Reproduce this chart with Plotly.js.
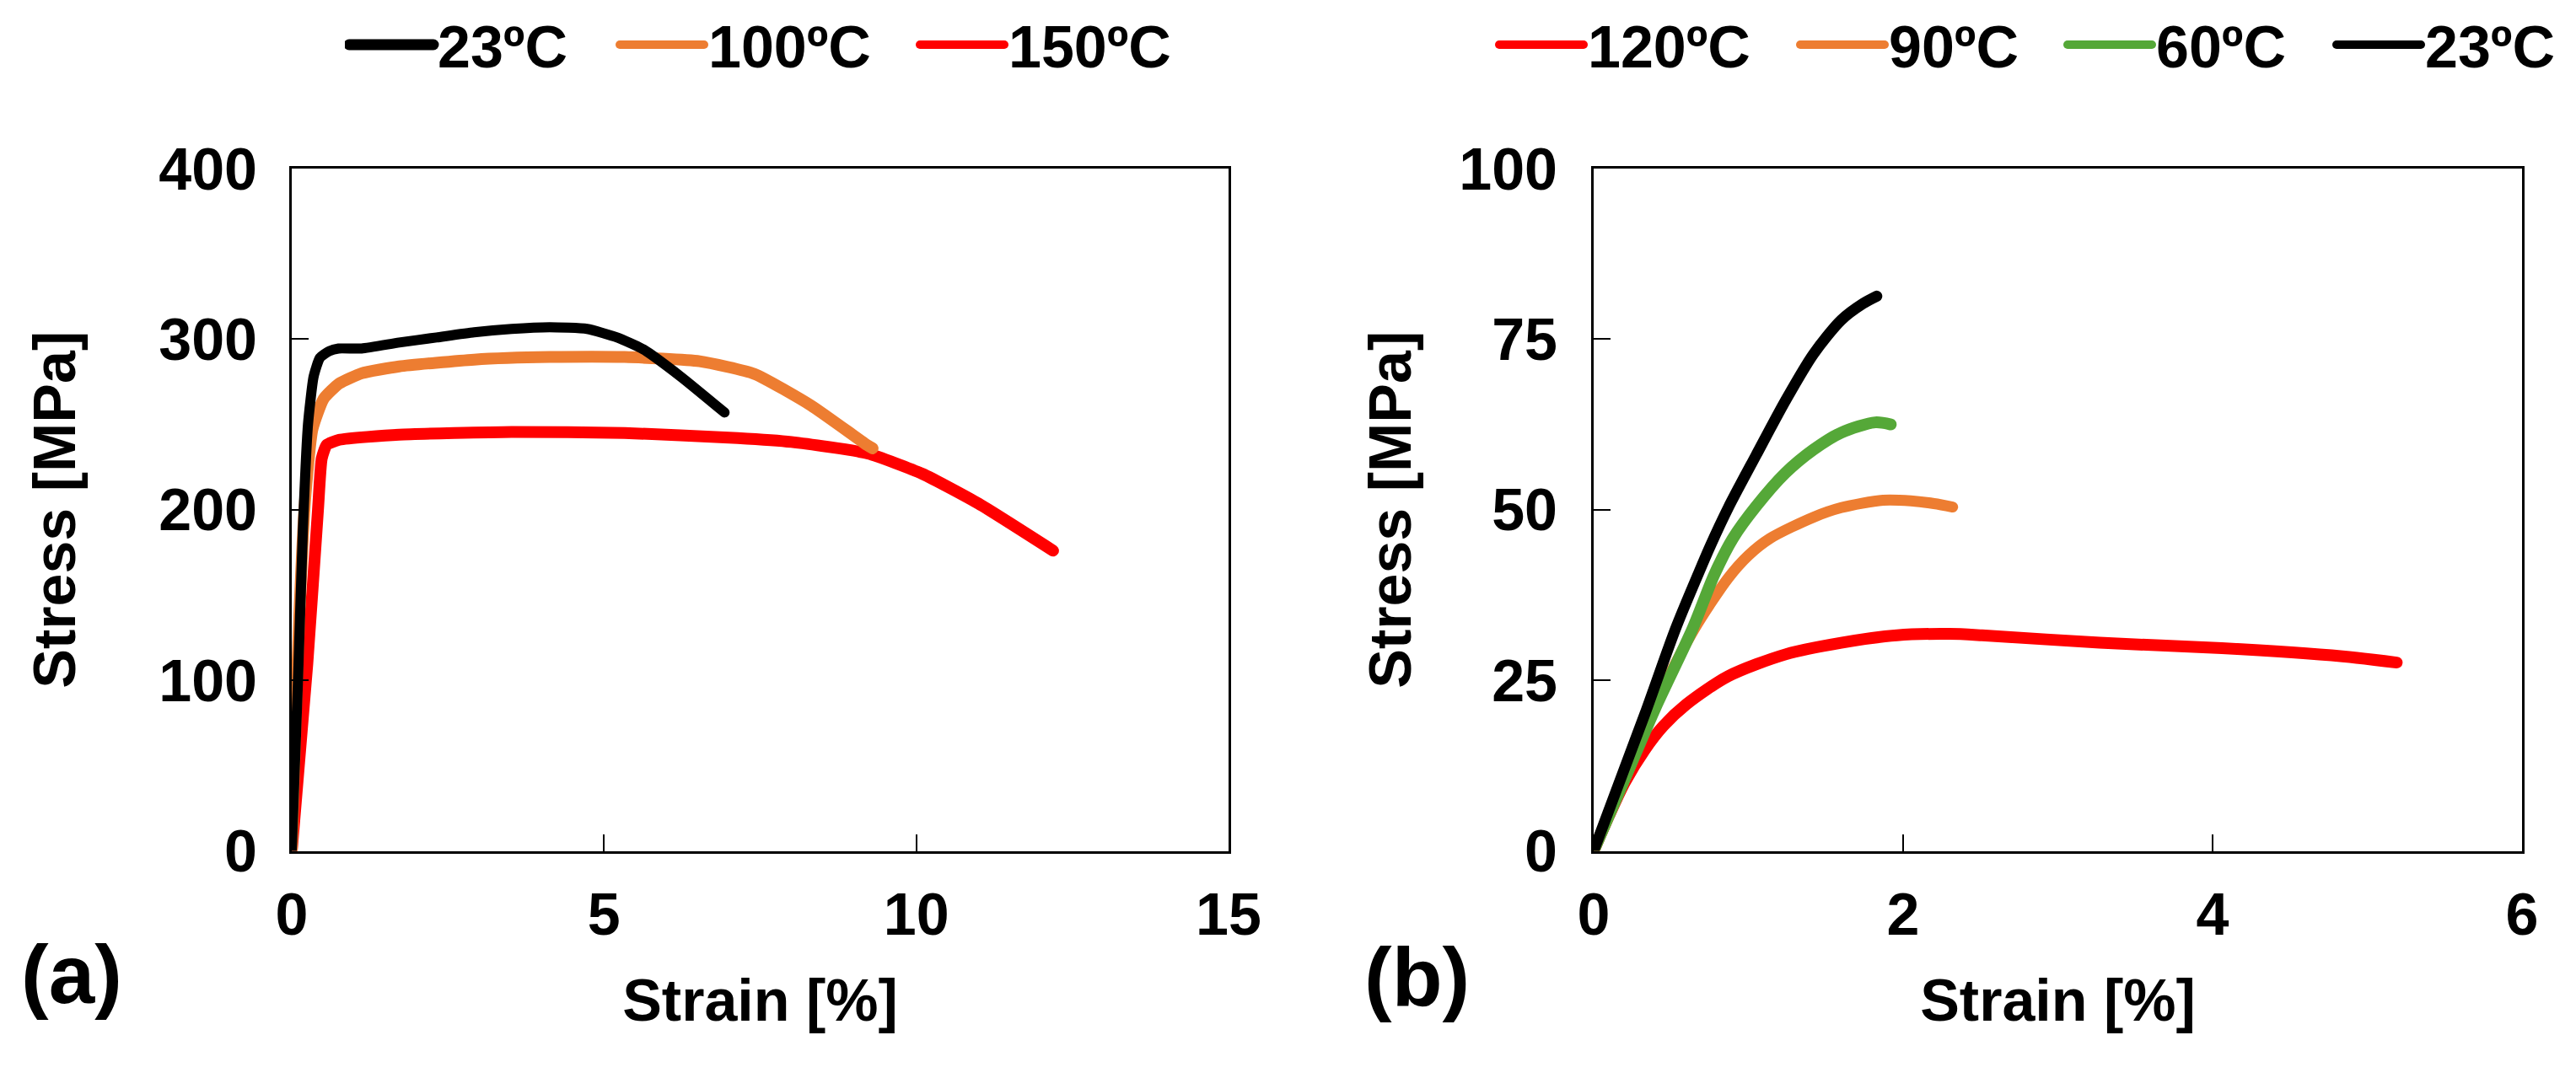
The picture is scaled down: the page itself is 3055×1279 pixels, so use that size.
<!DOCTYPE html>
<html>
<head>
<meta charset="utf-8">
<script src="https://cdn.plot.ly/plotly-3.0.1.min.js"></script>
<style>
  html, body { margin: 0; padding: 0; background: #fff; }
  #chart { width: 3055px; height: 1279px; }
  .js-line { stroke-linecap: round; stroke-linejoin: round; }
  .legend .js-line { stroke-width: 13px !important; }
</style>
</head>
<body>
<div id="chart"></div>
<script>
// ---------- Panel (a) ----------
const a23_x  = [0, 0.1, 0.18, 0.26, 0.35, 0.45, 0.6, 0.75, 1.12, 1.72, 2.32, 2.92, 3.52, 4.13, 4.73, 5.21, 5.63, 6.23, 6.93];
const a23_y  = [0, 100, 190, 250, 278, 289, 293, 294.5, 294.5, 298, 301, 304, 306, 307, 306, 301, 294, 278, 257];
const a100_x = [0, 0.06, 0.12, 0.21, 0.33, 0.51, 0.76, 1.12, 1.72, 2.92, 4.13, 5.33, 6.53, 7.41, 8.32, 9.22, 9.3];
const a100_y = [0, 75, 137, 204, 247, 265, 274, 280, 284, 288, 289.5, 289.5, 287, 279.6, 261, 237.7, 236];
const a150_x = [0, 0.25, 0.42, 0.48, 0.56, 0.76, 1.72, 3.52, 5.33, 7.14, 8.0, 9.22, 10.1, 11.0, 12.19];
const a150_y = [0, 110, 200, 230, 238, 241, 244, 245.6, 245, 242, 239.7, 233, 221, 203.5, 176];

// ---------- Panel (b) ----------
const b120_x = [0, 0.1, 0.2, 0.33, 0.45, 0.6, 0.87, 1.24, 1.6, 1.96, 2.3, 2.51, 3.27, 4.06, 4.84, 5.19];
const b120_y = [0, 5.2, 10, 14.8, 18.3, 21.5, 25.6, 28.8, 30.5, 31.6, 31.8, 31.6, 30.5, 29.7, 28.5, 27.6];
const b90_x  = [0, 0.23, 0.42, 0.65, 0.87, 1.0, 1.14, 1.42, 1.6, 1.87, 2.05, 2.2, 2.32];
const b90_y  = [0, 12, 22.5, 32.5, 40, 43.3, 45.8, 48.9, 50.3, 51.4, 51.3, 50.9, 50.4];
const b60_x  = [0, 0.2, 0.4, 0.64, 0.78, 0.9, 1.05, 1.24, 1.42, 1.6, 1.82, 1.92];
const b60_y  = [0, 10.5, 21, 32.6, 40.5, 45.8, 50.5, 55.4, 58.8, 61.3, 62.8, 62.5];
const b23_x  = [0, 0.33, 0.53, 0.68, 0.76, 0.87, 1.05, 1.24, 1.42, 1.6, 1.74, 1.83];
const b23_y  = [0, 20, 32.6, 40.8, 45, 50.3, 58, 66, 72.8, 77.8, 80.2, 81.3];

const names_a = ['23ºC', '100ºC', '150ºC'];
const names_b = ['120ºC', '90ºC', '60ºC', '23ºC'];

const ticks_a_x = [0, 5, 10, 15];
const ticks_a_y = [0, 100, 200, 300, 400];
const ticks_b_x = [0, 2, 4, 6];
const ticks_b_y = [0, 25, 50, 75, 100];

const BLACK = '#000000', ORANGE = '#ED7D31', RED = '#FF0000', GREEN = '#55A838';
const FONT = 'Arial, "Liberation Sans", sans-serif';

function tr(x, y, name, color, width, xa, ya, leg, smooth) {
  return {
    type: 'scatter', mode: 'lines', x: x, y: y, name: name,
    xaxis: xa, yaxis: ya, legend: leg, hoverinfo: 'skip',
    line: { color: color, width: width, shape: 'spline', smoothing: smooth }
  };
}

const data = [
  tr(a150_x, a150_y, names_a[2], RED,    14, 'x', 'y', 'legend3', 0.5),
  tr(a100_x, a100_y, names_a[1], ORANGE, 14, 'x', 'y', 'legend2', 0.5),
  tr(a23_x,  a23_y,  names_a[0], BLACK,  12, 'x', 'y', 'legend',  0.5),
  tr(b120_x, b120_y, names_b[0], RED,    14, 'x2', 'y2', 'legend4', 0.8),
  tr(b90_x,  b90_y,  names_b[1], ORANGE, 13, 'x2', 'y2', 'legend5', 0.8),
  tr(b60_x,  b60_y,  names_b[2], GREEN,  14, 'x2', 'y2', 'legend6', 0.8),
  tr(b23_x,  b23_y,  names_b[3], BLACK,  13, 'x2', 'y2', 'legend7', 0.8)
];

const W = 3055, H = 1279;
const tickFont = { family: FONT, size: 70, color: '#000', weight: 'bold' };
const titleFont = { family: FONT, size: 70, color: '#000', weight: 'bold' };

function axis(extra) {
  return Object.assign({
    showline: true, linecolor: '#000', linewidth: 3, mirror: true,
    ticks: 'inside', ticklen: 20, tickwidth: 2, tickcolor: '#000',
    showgrid: false, zeroline: false, tickfont: tickFont, fixedrange: true
  }, extra);
}

function legendAt(px, py) {
  return {
    orientation: 'h', x: px / W, y: 1 - py / H, xanchor: 'left', yanchor: 'middle',
    itemwidth: 100, bgcolor: 'rgba(0,0,0,0)', borderwidth: 0,
    font: { family: FONT, size: 70, color: '#000', weight: 'bold' }
  };
}

const yDom = [1 - 1009.5 / H, 1 - 200 / H];

const layout = {
  width: W, height: H,
  margin: { l: 0, r: 0, t: 0, b: 0 },
  paper_bgcolor: '#fff', plot_bgcolor: '#fff',
  font: { family: FONT, color: '#000' },
  showlegend: true,
  xaxis: axis({ domain: [346 / W, 1457 / W], anchor: 'y', range: [0, 15], tickvals: ticks_a_x,
    ticklabelstandoff: 12,
    title: { text: 'Strain [%]', font: titleFont, standoff: 40 } }),
  yaxis: axis({ domain: yDom, anchor: 'x', range: [0, 400], tickvals: ticks_a_y,
    ticklabelstandoff: 24,
    title: { text: 'Stress [MPa]', font: titleFont, standoff: 76 } }),
  xaxis2: axis({ domain: [1890 / W, 2991 / W], anchor: 'y2', range: [0, 6], tickvals: ticks_b_x,
    ticklabelstandoff: 12,
    title: { text: 'Strain [%]', font: titleFont, standoff: 40 } }),
  yaxis2: axis({ domain: yDom, anchor: 'x2', range: [0, 100], tickvals: ticks_b_y,
    ticklabelstandoff: 26,
    title: { text: 'Stress [MPa]', font: titleFont, standoff: 34 } }),
  legend:  legendAt(409, 53),
  legend2: legendAt(730, 53),
  legend3: legendAt(1086, 53),
  legend4: legendAt(1773, 53),
  legend5: legendAt(2130, 53),
  legend6: legendAt(2447, 53),
  legend7: legendAt(2766, 53),
  annotations: [
    { text: '(a)', xref: 'paper', yref: 'paper', x: 85 / W, y: 1 - 1156 / H, xanchor: 'center', yanchor: 'middle',
      showarrow: false, font: { family: FONT, size: 98, color: '#000', weight: 'bold' } },
    { text: '(b)', xref: 'paper', yref: 'paper', x: 1680 / W, y: 1 - 1159 / H, xanchor: 'center', yanchor: 'middle',
      showarrow: false, font: { family: FONT, size: 98, color: '#000', weight: 'bold' } }
  ]
};

Plotly.newPlot('chart', data, layout, { staticPlot: true, displayModeBar: false });
</script>
</body>
</html>
